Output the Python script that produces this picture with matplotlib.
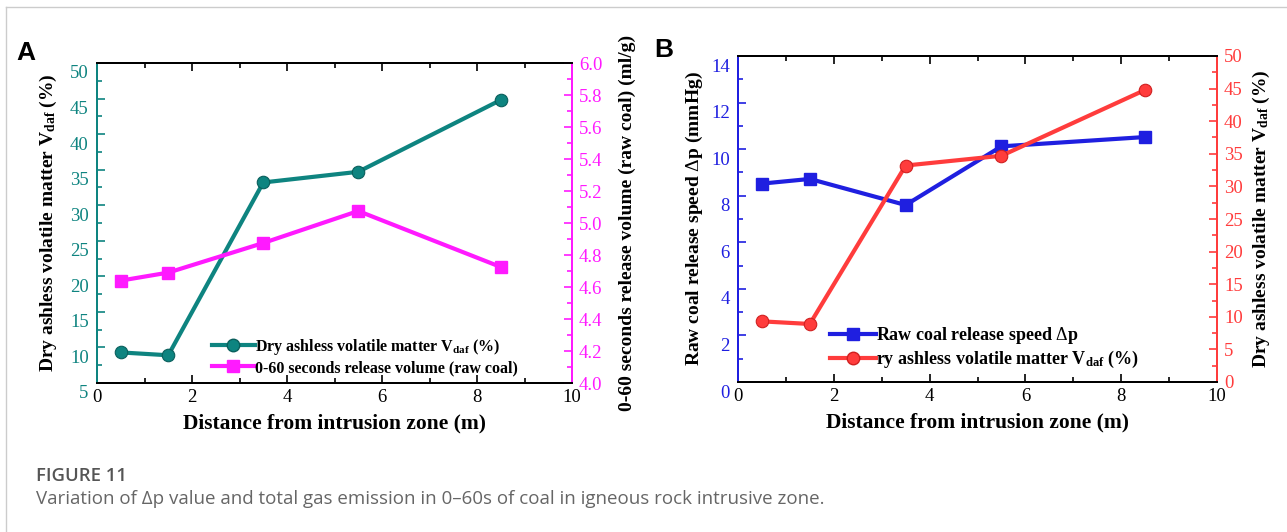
import matplotlib
matplotlib.use("Agg")
import matplotlib.pyplot as plt
from matplotlib.ticker import MultipleLocator, FormatStrFormatter
from matplotlib.lines import Line2D
from matplotlib.transforms import ScaledTranslation

plt.rcParams['font.family'] = ['Liberation Serif', 'DejaVu Serif']
plt.rcParams['mathtext.fontset'] = 'custom'
plt.rcParams['mathtext.rm'] = 'Liberation Serif'
plt.rcParams['mathtext.bf'] = 'Liberation Serif:bold'
plt.rcParams['mathtext.it'] = 'Liberation Serif:italic'

# data
distance = [0.5, 1.5, 3.5, 5.5, 8.5]
vdaf = [9.3, 8.9, 33.2, 34.7, 44.8]
release_volume = [4.64, 4.69, 4.875, 5.075, 4.725]
release_speed = [8.52, 8.72, 7.60, 10.12, 10.52]

teal = '#0E8480'
magenta = '#FF1AFF'
blue = '#1F1FE0'
red = '#FF3C3C'

W, H = 1287, 532
TICK_FS = 13.5
fig = plt.figure(figsize=(W / 100, H / 100), dpi=100)

def style_axes(ax, ax2, lcol, rcol):
    ax.set_xlim(0, 10)
    ax.xaxis.set_major_locator(MultipleLocator(2))
    ax.xaxis.set_minor_locator(MultipleLocator(1))
    ax.tick_params(axis='x', which='both', direction='in', top=True, colors='black',
                   labelsize=TICK_FS, pad=4)
    ax.tick_params(axis='x', which='major', length=6, width=1.2)
    ax.tick_params(axis='x', which='minor', length=3.5, width=1.2)
    ax.tick_params(axis='y', which='both', direction='in', colors=lcol, labelsize=TICK_FS,
                   width=1.2, pad=6)
    ax.tick_params(axis='y', which='major', length=6)
    ax.tick_params(axis='y', which='minor', length=3.5)
    ax2.tick_params(axis='y', which='both', direction='in', colors=rcol, labelsize=TICK_FS,
                    width=1.2, pad=5)
    ax2.tick_params(axis='y', which='major', length=6)
    ax2.tick_params(axis='y', which='minor', length=3.5)
    for a in (ax, ax2):
        for s in a.spines.values():
            s.set_linewidth(1.4)
    for a in (ax, ax2):
        a.spines['left'].set_color(lcol)
        a.spines['right'].set_color(rcol)
    ax.set_xlabel('Distance from intrusion zone (m)', fontsize=15.5, fontweight='bold',
                  labelpad=6)

# ---- panel A ----
axA = fig.add_axes([97 / W, 1 - 383 / H, 475 / W, 320 / H])
axA2 = axA.twinx()
axA.plot(distance, vdaf, color=teal, lw=3, marker='o', ms=9,
         mfc=teal, mec='#0A5F5C', mew=0.8)
axA2.plot(distance, release_volume, color=magenta, lw=3, marker='s', ms=8,
          mfc=magenta, mec=magenta)
axA.set_ylim(5, 50)
axA.yaxis.set_major_locator(MultipleLocator(5))
axA.yaxis.set_minor_locator(MultipleLocator(2.5))
axA2.set_ylim(4.0, 6.0)
axA2.yaxis.set_major_locator(MultipleLocator(0.2))
axA2.yaxis.set_minor_locator(MultipleLocator(0.1))
axA2.yaxis.set_major_formatter(FormatStrFormatter('%.1f'))
style_axes(axA, axA2, teal, magenta)
axA.set_ylabel(r'Dry ashless volatile matter V$_{\mathbf{daf}}$ (%)', fontsize=14,
               fontweight='bold', color='black', labelpad=8)
axA2.set_ylabel('0-60 seconds release volume (raw coal) (ml/g)', fontsize=14,
                fontweight='bold', color='black', labelpad=12)
handlesA = [Line2D([], [], color=teal, lw=3, marker='o', ms=9, mfc=teal, mec='#0A5F5C'),
            Line2D([], [], color=magenta, lw=3, marker='s', ms=8, mfc=magenta, mec=magenta)]
axA.legend(handlesA, [r'Dry ashless volatile matter V$_{\mathbf{daf}}$ (%)',
                      '0-60 seconds release volume (raw coal)'],
           loc='center left', bbox_to_anchor=(0.228, 0.083), frameon=False,
           prop={'weight': 'bold', 'size': 11.5}, handlelength=2.7,
           handletextpad=0.0, labelspacing=0.2, borderaxespad=0)

# ---- panel B ----
axB = fig.add_axes([738 / W, 1 - 382 / H, 479 / W, 326 / H])
axB2 = axB.twinx()
axB.plot(distance, release_speed, color=blue, lw=3, marker='s', ms=8,
         mfc=blue, mec=blue)
axB2.plot(distance, vdaf, color=red, lw=3, marker='o', ms=9,
          mfc=red, mec='#D02020', mew=0.8)
axB.set_ylim(0, 14)
axB.yaxis.set_major_locator(MultipleLocator(2))
axB.yaxis.set_minor_locator(MultipleLocator(1))
axB2.set_ylim(0, 50)
axB2.yaxis.set_major_locator(MultipleLocator(5))
axB2.yaxis.set_minor_locator(MultipleLocator(2.5))
style_axes(axB, axB2, blue, red)
axB.set_ylabel(r'Raw coal release speed $\Delta$p (mmHg)', fontsize=14,
               fontweight='bold', color='black', labelpad=4)
axB2.set_ylabel(r'Dry ashless volatile matter V$_{\mathbf{daf}}$ (%)', fontsize=14,
                fontweight='bold', color='black', labelpad=6)
handlesB = [Line2D([], [], color=blue, lw=3, marker='s', ms=8, mfc=blue, mec=blue),
            Line2D([], [], color=red, lw=3, marker='o', ms=9, mfc=red, mec='#D02020')]
axB.legend(handlesB, [r'Raw coal release speed $\Delta$p',
                      r'ry ashless volatile matter V$_{\mathbf{daf}}$ (%)'],
           loc='center left', bbox_to_anchor=(0.178, 0.105), frameon=False,
           prop={'weight': 'bold', 'size': 13}, handlelength=2.5,
           handletextpad=0.0, labelspacing=0.15, borderaxespad=0)

# left tick labels sit a little below their ticks in the original
fig.canvas.draw()
shift = ScaledTranslation(0, -9 / 100, fig.dpi_scale_trans)
for ax in (axA, axB):
    for lab in ax.get_yticklabels():
        lab.set_transform(lab.get_transform() + shift)

# panel letters
fig.text(16 / W, 1 - 53 / H, 'A', fontsize=19, fontweight='bold',
         family='Liberation Sans', va='center', ha='left')
fig.text(654 / W, 1 - 50 / H, 'B', fontsize=19, fontweight='bold',
         family='Liberation Sans', va='center', ha='left')

# caption
fig.text(36 / W, 1 - 476 / H, 'FIGURE 11', fontsize=13.3, fontweight='semibold',
         family='Open Sans', color='#555555', va='center', ha='left')
fig.text(36 / W, 1 - 499 / H,
         'Variation of \u0394p value and total gas emission in 0\u201360s of coal in igneous rock intrusive zone.',
         fontsize=13.5, family='Open Sans', color='#666666', va='center', ha='left')

# page frame lines
fig.add_artist(Line2D([6 / W, 6 / W], [0, 1 - 7 / H], color='#cccccc', lw=1))
fig.add_artist(Line2D([6 / W, 1], [1 - 7 / H, 1 - 7 / H], color='#cccccc', lw=1))

fig.savefig('out.png', dpi=100)
